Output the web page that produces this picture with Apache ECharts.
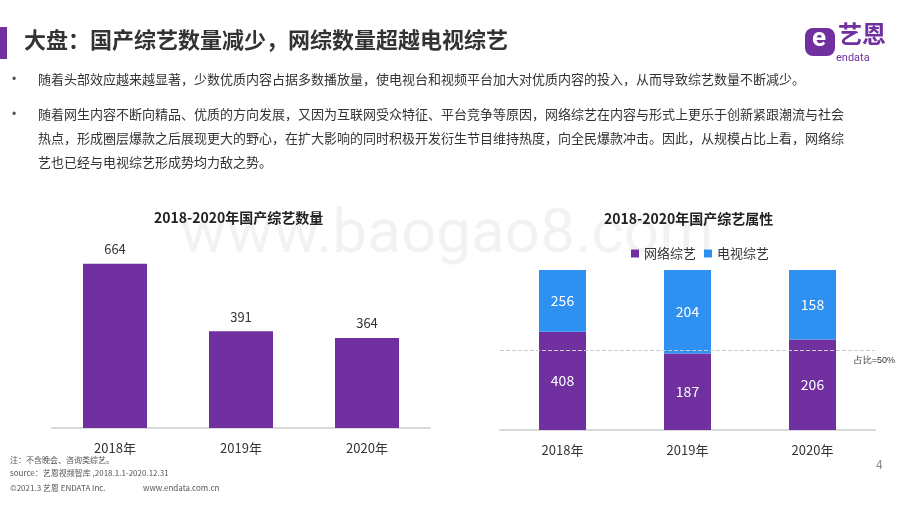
<!DOCTYPE html>
<html>
<head>
<meta charset="utf-8">
<script src="https://cdn.jsdelivr.net/npm/echarts@6/dist/echarts.min.js"></script>
<style>
html, body {margin:0; padding:0; background:#fff;}
#main {width:920px; height:518px;}
</style>
</head>
<body>
<div id="main"></div>
<script>
var years = ['2018年', '2019年', '2020年'];
var totalCount = [664, 391, 364];
var netCount = [408, 187, 206];
var tvCount = [256, 204, 158];

var purple = '#7030a0';
var blue = '#2e90f0';
var font = '"Noto Sans CJK SC", sans-serif';

// shares for the stacked 100% chart, labels still show counts
var netShare = [], tvShare = [];
for (var i = 0; i < years.length; i++) {
    var t = netCount[i] + tvCount[i];
    netShare.push({value: netCount[i] / t, raw: netCount[i]});
    tvShare.push({value: tvCount[i] / t, raw: tvCount[i]});
}

var chart = echarts.init(document.getElementById('main'));

var bullets = [
    {y: 82, text: '随着头部效应越来越显著，少数优质内容占据多数播放量，使电视台和视频平台加大对优质内容的投入，从而导致综艺数量不断减少。', dot: true},
    {y: 117, text: '随着网生内容不断向精品、优质的方向发展，又因为互联网受众特征、平台竞争等原因，网络综艺在内容与形式上更乐于创新紧跟潮流与社会', dot: true},
    {y: 141, text: '热点，形成圈层爆款之后展现更大的野心，在扩大影响的同时积极开发衍生节目维持热度，向全民爆款冲击。因此，从规模占比上看，网络综'},
    {y: 165, text: '艺也已经与电视综艺形成势均力敌之势。'}
];

var graphics = [
    {type: 'text', left: 180, top: 205, z: 0, style: {text: 'www.baogao8.com', fontSize: 62, fontFamily: 'Roboto, sans-serif', fill: 'rgba(0,0,0,0.05)'}},
    {type: 'rect', shape: {x: 0, y: 27, width: 7, height: 32}, style: {fill: purple}},
    {type: 'text', left: 24, top: 29, style: {text: '大盘：国产综艺数量减少，网综数量超越电视综艺', fontSize: 22, fontWeight: 'bold', fontFamily: font, fill: '#333'}},
    {type: 'rect', shape: {x: 805, y: 28, width: 30, height: 28, r: 8}, style: {fill: purple}},
    {type: 'text', left: 812, top: 26, style: {text: 'e', fontSize: 26, fontWeight: 'bold', fontFamily: 'Roboto', fill: '#fff'}},
    {type: 'text', left: 838, top: 22, style: {text: '艺恩', fontSize: 24, fontWeight: 'bold', fontFamily: font, fill: purple}},
    {type: 'text', left: 836, top: 53, style: {text: 'endata', fontSize: 11, fontFamily: 'Roboto', fill: purple}},
    {type: 'text', left: 10, top: 456, style: {text: '注：不含晚会、咨询类综艺。', fontSize: 8, fontFamily: font, fill: '#555'}},
    {type: 'text', left: 10, top: 469, style: {text: 'source：艺恩视频智库 ,2018.1.1-2020.12.31', fontSize: 8, fontFamily: font, fill: '#555'}},
    {type: 'text', left: 10, top: 484, style: {text: '©2021.3 艺恩 ENDATA Inc.', fontSize: 8, fontFamily: font, fill: '#555'}},
    {type: 'text', left: 143, top: 484, style: {text: 'www.endata.com.cn', fontSize: 8, fontFamily: font, fill: '#555'}},
    {type: 'text', left: 876, top: 458, style: {text: '4', fontSize: 12, fontFamily: font, fill: '#888'}},
    {type: 'text', left: 154, top: 211, style: {text: '2018-2020年国产综艺数量', fontSize: 14, fontWeight: 'bold', fontFamily: font, fill: '#222'}},
    {type: 'text', left: 604, top: 212, style: {text: '2018-2020年国产综艺属性', fontSize: 14, fontWeight: 'bold', fontFamily: font, fill: '#222'}}
];
bullets.forEach(function (b) {
    if (b.dot) graphics.push({type: 'text', left: 12, top: b.y - 8, style: {text: '•', fontSize: 12, fill: '#555'}});
    graphics.push({type: 'text', left: 38, top: b.y - 9, style: {text: b.text, fontSize: 13, fontFamily: font, fill: '#333'}});
});

var axisLabel = {fontSize: 13, color: '#333', fontFamily: font, margin: 14};

chart.setOption({
    animation: false,
    graphic: graphics,
    legend: {
        top: 242, left: 626, itemWidth: 8, itemHeight: 8, itemGap: 8,
        icon: 'rect',
        textStyle: {fontSize: 13, color: '#333', fontFamily: font},
        data: ['网络综艺', '电视综艺']
    },
    grid: [
        {left: 52, width: 378, top: 240, height: 188},
        {left: 500, width: 375, top: 270, height: 160}
    ],
    xAxis: [
        {gridIndex: 0, type: 'category', data: years, axisTick: {show: false},
         axisLine: {lineStyle: {color: '#d9d9d9', width: 2}}, axisLabel: axisLabel},
        {gridIndex: 1, type: 'category', data: years, axisTick: {show: false},
         axisLine: {lineStyle: {color: '#d9d9d9', width: 2}}, axisLabel: axisLabel}
    ],
    yAxis: [
        {gridIndex: 0, type: 'value', min: 0, max: 760, show: false},
        {gridIndex: 1, type: 'value', min: 0, max: 1, show: false}
    ],
    series: [
        {
            type: 'bar', xAxisIndex: 0, yAxisIndex: 0, data: totalCount, barWidth: 64,
            itemStyle: {color: purple},
            label: {show: true, position: 'top', distance: 8, fontSize: 13, color: '#333', fontFamily: font}
        },
        {
            name: '网络综艺', type: 'bar', stack: 'p', xAxisIndex: 1, yAxisIndex: 1, data: netShare, barWidth: 47,
            itemStyle: {color: purple},
            label: {show: true, position: 'inside', fontSize: 14, color: '#fff', fontFamily: font,
                    formatter: function (p) { return p.data.raw; }},
            markLine: {
                silent: true, symbol: 'none',
                lineStyle: {type: 'dashed', color: '#ccc', width: 1},
                label: {position: 'insideEndBottom', formatter: '占比=50%', fontSize: 9, color: '#333', distance: [-20, 6]},
                data: [{yAxis: 0.5}]
            }
        },
        {
            name: '电视综艺', type: 'bar', stack: 'p', xAxisIndex: 1, yAxisIndex: 1, data: tvShare, barWidth: 47,
            itemStyle: {color: blue},
            label: {show: true, position: 'inside', fontSize: 14, color: '#fff', fontFamily: font,
                    formatter: function (p) { return p.data.raw; }}
        }
    ]
});
</script>
</body>
</html>
